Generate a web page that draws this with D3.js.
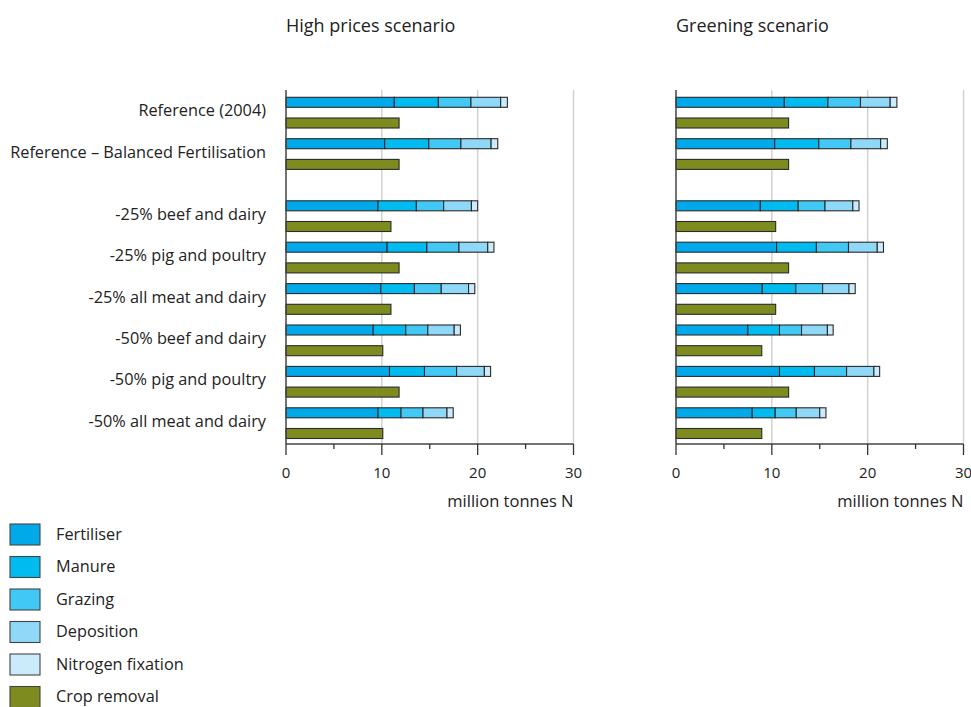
<!DOCTYPE html>
<html>
<head>
<meta charset="utf-8">
<script src="https://cdn.jsdelivr.net/npm/d3@7"></script>
<style>
  html, body { margin: 0; padding: 0; background: #fff; }
  svg text { font-family: "Open Sans", "Noto Sans", sans-serif; fill: #222; }
</style>
</head>
<body>
<svg id="chart" width="971" height="707"></svg>
<script>
// ---------- data ----------
const categories = [
  "Reference (2004)",
  "Reference – Balanced Fertilisation",
  "-25% beef and dairy",
  "-25% pig and poultry",
  "-25% all meat and dairy",
  "-50% beef and dairy",
  "-50% pig and poultry",
  "-50% all meat and dairy"
];
const seriesNames = ["Fertiliser", "Manure", "Grazing", "Deposition", "Nitrogen fixation"];
const cropName = "Crop removal";
const panelTitles = ["High prices scenario", "Greening scenario"];
const tickValues = [0, 10, 20, 30];
const tickLabels = ["0", "10", "20", "30"];
const axisTitle = "million tonnes N";

// High prices scenario
const hpFertiliser = [11.3, 10.3, 9.6, 10.55, 9.9, 9.1, 10.8, 9.6];
const hpManure     = [4.6, 4.6, 4.0, 4.15, 3.5, 3.4, 3.65, 2.4];
const hpGrazing    = [3.4, 3.35, 2.85, 3.35, 2.8, 2.3, 3.35, 2.3];
const hpDeposition = [3.1, 3.15, 2.9, 3.0, 2.85, 2.75, 2.9, 2.5];
const hpFixation   = [0.7, 0.7, 0.65, 0.65, 0.65, 0.65, 0.65, 0.65];
const hpCrop       = [11.8, 11.8, 10.95, 11.8, 10.95, 10.1, 11.8, 10.1];

// Greening scenario
const grFertiliser = [11.3, 10.3, 8.8, 10.5, 9.0, 7.5, 10.8, 7.95];
const grManure     = [4.55, 4.6, 3.95, 4.15, 3.5, 3.3, 3.65, 2.4];
const grGrazing    = [3.4, 3.35, 2.8, 3.35, 2.8, 2.3, 3.35, 2.2];
const grDeposition = [3.1, 3.1, 2.9, 3.0, 2.75, 2.7, 2.85, 2.45];
const grFixation   = [0.7, 0.7, 0.65, 0.65, 0.65, 0.6, 0.6, 0.65];
const grCrop       = [11.75, 11.75, 10.4, 11.75, 10.4, 8.95, 11.75, 8.95];

const colors = ["#00aaea", "#00bbf0", "#42c8f4", "#8fd8f8", "#cbebfb"];
const cropColor = "#7e8b1f";

// ---------- build ----------
const panels = [
  { title: panelTitles[0], x0: 286, series: [hpFertiliser, hpManure, hpGrazing, hpDeposition, hpFixation], crop: hpCrop },
  { title: panelTitles[1], x0: 676, series: [grFertiliser, grManure, grGrazing, grDeposition, grFixation], crop: grCrop }
];

const svg = d3.select("#chart");
const plotWidth = 287.5;
const barH = 10;
const rowTop = 97.3, groupPitch = 41.4, subPitch = 20.7;
const axisY = 444, gridTop = 90;

// slot index with extra half gap after the two reference rows
const slot = i => i + (i >= 2 ? 0.5 : 0);
const y = d3.scaleLinear().domain([0, 1]).range([rowTop, rowTop + groupPitch]);

// category labels
svg.append("g").selectAll("text").data(categories).join("text")
  .attr("x", 266)
  .attr("y", (d, i) => y(slot(i)) + (subPitch + barH) / 2 - 2)
  .attr("dy", "0.35em")
  .attr("text-anchor", "end")
  .style("font-size", "16.3px")
  .text(d => d);

panels.forEach(p => {
  const x = d3.scaleLinear().domain([0, 30]).range([p.x0, p.x0 + plotWidth]);
  const g = svg.append("g");

  // title
  g.append("text").attr("x", p.x0).attr("y", 32)
    .style("font-size", "18px").text(p.title);

  // gridlines
  g.append("g").selectAll("line").data(tickValues.filter(v => v > 0)).join("line")
    .attr("x1", d => x(d)).attr("x2", d => x(d))
    .attr("y1", gridTop).attr("y2", axisY)
    .attr("stroke", "#d2d2d2").attr("stroke-width", 1.5);

  // stacked bars
  const stackData = categories.map((c, i) => {
    const o = { i };
    seriesNames.forEach((s, k) => o[s] = p.series[k][i]);
    return o;
  });
  const stacked = d3.stack().keys(seriesNames)(stackData);
  stacked.forEach((layer, k) => {
    g.append("g").selectAll("rect").data(layer).join("rect")
      .attr("x", d => x(d[0]))
      .attr("y", d => y(slot(d.data.i)))
      .attr("width", d => x(d[1]) - x(d[0]))
      .attr("height", barH)
      .attr("fill", colors[k])
      .attr("stroke", "#2a2a2a").attr("stroke-width", 1.1);
  });

  // crop removal bars
  g.append("g").selectAll("rect").data(p.crop).join("rect")
    .attr("x", x(0))
    .attr("y", (d, i) => y(slot(i)) + subPitch)
    .attr("width", d => x(d) - x(0))
    .attr("height", barH)
    .attr("fill", cropColor)
    .attr("stroke", "#2a2a2a").attr("stroke-width", 1.1);

  // vertical axis line
  g.append("line").attr("x1", x(0)).attr("x2", x(0))
    .attr("y1", gridTop).attr("y2", axisY)
    .attr("stroke", "#444").attr("stroke-width", 1.5);

  // bottom axis
  const ax = g.append("g");
  ax.append("line").attr("x1", x(0)).attr("x2", x(30))
    .attr("y1", axisY).attr("y2", axisY)
    .attr("stroke", "#444").attr("stroke-width", 1.3);
  ax.selectAll("line.major").data(tickValues).join("line").attr("class", "major")
    .attr("x1", d => x(d)).attr("x2", d => x(d))
    .attr("y1", axisY).attr("y2", axisY + 11)
    .attr("stroke", "#333").attr("stroke-width", 1.3);
  ax.selectAll("line.minor").data([5, 15, 25]).join("line").attr("class", "minor")
    .attr("x1", d => x(d)).attr("x2", d => x(d))
    .attr("y1", axisY).attr("y2", axisY + 5)
    .attr("stroke", "#333").attr("stroke-width", 1.3);
  ax.selectAll("text").data(tickValues).join("text")
    .attr("x", d => x(d)).attr("y", 473).attr("dy", "0.35em")
    .attr("text-anchor", "middle").style("font-size", "15px")
    .text((d, i) => tickLabels[i]);
  ax.append("text").attr("x", x(30)).attr("y", 501).attr("dy", "0.35em")
    .attr("text-anchor", "end").style("font-size", "16.5px").text(axisTitle);
});

// legend
const legendItems = seriesNames.map((s, k) => ({ name: s, color: colors[k] }))
  .concat([{ name: cropName, color: cropColor }]);
const lg = svg.append("g").selectAll("g").data(legendItems).join("g")
  .attr("transform", (d, i) => `translate(10, ${524 + i * 32.5})`);
lg.append("rect").attr("width", 30).attr("height", 21)
  .attr("fill", d => d.color).attr("stroke", "#444").attr("stroke-width", 1.1);
lg.append("text").attr("x", 46).attr("y", 10).attr("dy", "0.35em")
  .style("font-size", "16.3px").text(d => d.name);
</script>
</body>
</html>
